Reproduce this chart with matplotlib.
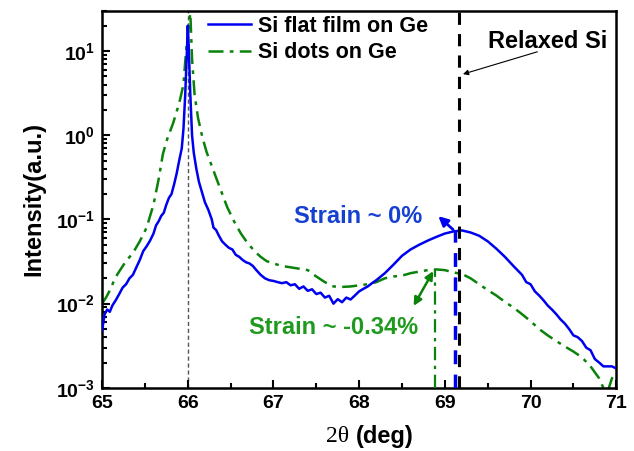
import numpy as np
import matplotlib
matplotlib.use("Agg")
import matplotlib.pyplot as plt
from matplotlib.ticker import FixedLocator, LogLocator, NullFormatter, MultipleLocator

plt.rcParams['font.family'] = ['Liberation Sans', 'DejaVu Sans']
plt.rcParams['font.weight'] = 'bold'
plt.rcParams['mathtext.fontset'] = 'custom'
plt.rcParams['mathtext.rm'] = 'Liberation Sans'
plt.rcParams['mathtext.bf'] = 'Liberation Sans:bold'

# Si flat film on Ge
flat_x = [65.00, 65.03, 65.06, 65.09, 65.12, 65.16, 65.20, 65.24, 65.28, 65.32,
          65.36, 65.40, 65.44, 65.48, 65.52, 65.56, 65.60, 65.63, 65.66, 65.69,
          65.72, 65.75, 65.78, 65.81, 65.84, 65.87, 65.90, 65.93, 65.95, 65.97,
          65.99, 66.00, 66.01, 66.03, 66.05, 66.07, 66.10, 66.13, 66.16, 66.20,
          66.24, 66.28, 66.30, 66.33, 66.36, 66.40, 66.44, 66.48, 66.52, 66.56,
          66.60, 66.64, 66.68, 66.72, 66.76, 66.80, 66.85, 66.90, 66.95, 67.00,
          67.05, 67.10, 67.15, 67.20, 67.25, 67.30, 67.35, 67.40, 67.45, 67.50,
          67.55, 67.60, 67.65, 67.70, 67.75, 67.80, 67.85, 67.90, 67.95, 68.00,
          68.05, 68.10, 68.15, 68.20, 68.30, 68.40, 68.50, 68.60, 68.70, 68.80,
          68.90, 69.00, 69.10, 69.20, 69.30, 69.40, 69.50, 69.60, 69.70, 69.80,
          69.90, 69.95, 70.00, 70.05, 70.10, 70.15, 70.20, 70.25, 70.30, 70.35,
          70.40, 70.45, 70.50, 70.55, 70.60, 70.65, 70.70, 70.75, 70.80, 70.85,
          70.90, 70.95, 71.00]
flat_y = [0.0048, 0.0075, 0.0085, 0.0080, 0.0095, 0.0110, 0.0130, 0.0155, 0.0170, 0.0200,
          0.0220, 0.0270, 0.0330, 0.0420, 0.0480, 0.0560, 0.0680, 0.0850, 0.0950, 0.1100,
          0.1200, 0.1500, 0.1800, 0.2000, 0.2600, 0.3500, 0.5000, 0.7000, 1.2, 3.0,
          10.0, 20.0, 12.0, 3.0, 1.0, 0.62, 0.40, 0.28, 0.22, 0.16,
          0.13, 0.10, 0.080, 0.075, 0.065, 0.055, 0.050, 0.046, 0.044, 0.038,
          0.036, 0.033, 0.031, 0.030, 0.028, 0.025, 0.022, 0.020, 0.019, 0.0186,
          0.018, 0.0175, 0.018, 0.0165, 0.0170, 0.0150, 0.0160, 0.0142, 0.0148, 0.0130,
          0.0135, 0.0118, 0.0124, 0.0100, 0.0113, 0.0104, 0.0118, 0.0112, 0.0125, 0.0140,
          0.0150, 0.0160, 0.0175, 0.0190, 0.0230, 0.0290, 0.0370, 0.0440, 0.0500, 0.0560,
          0.0620, 0.0680, 0.0720, 0.0740, 0.0700, 0.0640, 0.0550, 0.0450, 0.0360, 0.0280,
          0.0220, 0.0180, 0.0170, 0.0140, 0.0125, 0.0110, 0.0095, 0.0085, 0.0075, 0.0065,
          0.0058, 0.0050, 0.0042, 0.0040, 0.0036, 0.0030, 0.0028, 0.0022, 0.0020, 0.0018,
          0.0018, 0.0018, 0.0017]

# Si dots on Ge
dots_x = [65.00, 65.05, 65.10, 65.15, 65.21, 65.28, 65.36, 65.44, 65.52, 65.60,
          65.66, 65.71, 65.76, 65.83, 65.90, 65.95, 65.98, 66.01, 66.03, 66.05,
          66.08, 66.12, 66.17, 66.22, 66.30, 66.38, 66.46, 66.54, 66.62, 66.70,
          66.78, 66.85, 66.92, 67.00, 67.10, 67.20, 67.30, 67.40, 67.50, 67.60,
          67.70, 67.80, 67.90, 68.00, 68.10, 68.20, 68.30, 68.40, 68.50, 68.60,
          68.70, 68.80, 68.90, 69.00, 69.10, 69.20, 69.30, 69.40, 69.50, 69.60,
          69.70, 69.80, 69.90, 70.00, 70.10, 70.20, 70.30, 70.40, 70.50, 70.60,
          70.70, 70.80, 70.85, 70.90, 70.95, 71.00]
dots_y = [0.0100, 0.0120, 0.0150, 0.0200, 0.0250, 0.0320, 0.0400, 0.0550, 0.0800, 0.150,
          0.300, 0.600, 0.900, 1.4, 2.4, 4.0, 10.0, 20.0, 28.0, 8.0,
          3.0, 1.6, 0.95, 0.63, 0.38, 0.23, 0.14, 0.095, 0.068, 0.052,
          0.042, 0.036, 0.032, 0.030, 0.028, 0.027, 0.026, 0.025, 0.021, 0.018,
          0.016, 0.0158, 0.016, 0.0165, 0.017, 0.018, 0.020, 0.021, 0.0215, 0.023,
          0.024, 0.025, 0.0255, 0.025, 0.0235, 0.0225, 0.020, 0.017, 0.0145, 0.0125,
          0.0105, 0.0090, 0.0075, 0.0062, 0.0050, 0.0042, 0.0036, 0.0031, 0.0027, 0.0023,
          0.0018, 0.0013, 0.0010, 0.0009, 0.0013, 0.0015]

ge_peak = 66.0
relaxed_si = 69.17
flat_peak = (69.12, 0.072)
dots_peak = (68.88, 0.026)

xticks = [65, 66, 67, 68, 69, 70, 71]
yticks = [1e-3, 1e-2, 1e-1, 1e0, 1e1]
ylabels = [r'$\mathbf{10^{-3}}$', r'$\mathbf{10^{-2}}$', r'$\mathbf{10^{-1}}$',
           r'$\mathbf{10^{0}}$', r'$\mathbf{10^{1}}$']

blue = '#0000f0'
green = '#0a820a'

fig = plt.figure(figsize=(6.34, 4.51), dpi=100)
ax = fig.add_axes([0.161, 0.140, 0.811, 0.836])

ax.axvline(ge_peak, color='#555555', lw=1.0, ls=(0, (3, 2)), zorder=1)
ax.plot(flat_x, flat_y, color=blue, lw=1.8, label='Si flat film on Ge', zorder=3)
ax.plot(dots_x, dots_y, color=green, lw=1.8, ls=(0, (6, 2.5, 1.5, 2.5)),
        label='Si dots on Ge', zorder=2)

# peak markers
ax.plot([relaxed_si, relaxed_si], [1e-3, 35], color='black', lw=2.2,
        ls=(0, (4, 3)), clip_on=False, zorder=4)
ax.plot([flat_peak[0], flat_peak[0]], [1e-3, flat_peak[1]], color=blue, lw=2.5,
        ls=(0, (4, 3)), zorder=4)
ax.plot([dots_peak[0], dots_peak[0]], [1e-3, dots_peak[1]], color=green, lw=1.6,
        ls=(0, (6, 2.5, 1.5, 2.5)), zorder=4)

ax.set_yscale('log')
ax.set_xlim(65, 71)
ax.set_ylim(1e-3, 30)
ax.xaxis.set_major_locator(FixedLocator(xticks))
ax.xaxis.set_minor_locator(MultipleLocator(0.5))
ax.set_xticklabels([str(v) for v in xticks])
ax.yaxis.set_major_locator(FixedLocator(yticks))
ax.set_yticklabels(ylabels)
ax.yaxis.set_minor_locator(LogLocator(base=10, subs=np.arange(2, 10)))
ax.yaxis.set_minor_formatter(NullFormatter())
ax.tick_params(which='both', direction='in', labelsize=14, width=1.5)
ax.tick_params(which='major', length=6, pad=5)
ax.tick_params(which='minor', length=3.5)
for s in ax.spines.values():
    s.set_linewidth(1.8)

ax.set_ylabel('Intensity(a.u.)', fontsize=17, fontweight='bold', labelpad=8)
fig.text(349 / 634, 1 - 437 / 451, '2θ', family='Liberation Serif', fontweight='normal',
         fontsize=17, ha='right', va='center')
fig.text(356 / 634, 1 - 437 / 451, '(deg)', fontsize=17, fontweight='bold',
         ha='left', va='center')

ax.legend(loc='upper left', bbox_to_anchor=(0.19, 1.01), frameon=False, fontsize=15.5,
          handlelength=2.0, handletextpad=0.3, borderaxespad=0, labelspacing=0.25)

ax.annotate('', xy=(69.18, 5.2), xytext=(70.11, 10),
            arrowprops=dict(arrowstyle='-|>', color='black', lw=0.8, mutation_scale=8))
ax.text(70.2, 13.1, 'Relaxed Si', fontsize=17, fontweight='bold', ha='center', va='center')

ax.annotate('', xy=(68.90, 0.115), xytext=flat_peak,
            arrowprops=dict(arrowstyle='-|>', color=blue, lw=2.0, mutation_scale=14))
ax.text(67.99, 0.108, 'Strain ~ 0%', color='#1540d0', fontsize=17, fontweight='bold',
        ha='center', va='center')

ax.annotate('', xy=(68.62, 0.0088), xytext=dots_peak,
            arrowprops=dict(arrowstyle='<|-|>', color=green, lw=1.8, mutation_scale=12))
ax.text(67.70, 0.0052, 'Strain ~ -0.34%', color='#1f9a1f', fontsize=17, fontweight='bold',
        ha='center', va='center')

fig.savefig('out.png', dpi=100)
